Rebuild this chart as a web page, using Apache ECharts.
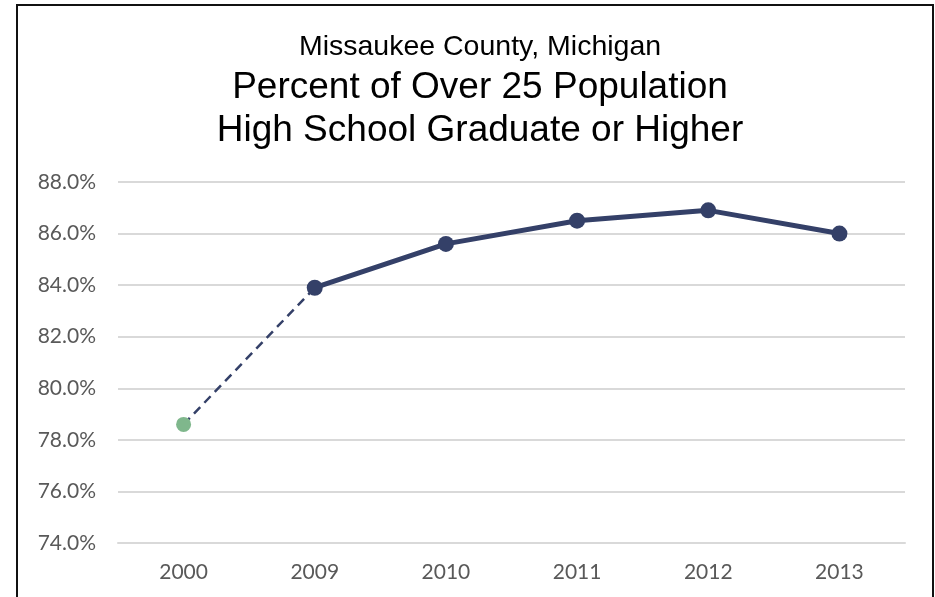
<!DOCTYPE html>
<html><head><meta charset="utf-8">
<script src="https://cdn.jsdelivr.net/npm/echarts@6/dist/echarts.min.js"></script>
<style>html,body{margin:0;padding:0;background:#fff}#c{width:935px;height:597px}</style>
</head><body><div id="c"></div>
<script>
const categories = ['2000', '2009', '2010', '2011', '2012', '2013'];
const values = [78.6, 83.9, 85.6, 86.5, 86.9, 86.0];
const yTicks = [74, 76, 78, 80, 82, 84, 86, 88];
const titleLines = ['Missaukee County, Michigan', 'Percent of Over 25 Population', 'High School Graduate or Higher'];

const dashed = values.map((v, i) => i <= 1 ? (i === 0 ? {value: v, symbol: 'circle', symbolSize: 15, itemStyle: {color: '#7FB78C'}} : v) : '-');
const solid = values.map((v, i) => i >= 1 ? v : '-');

const chart = echarts.init(document.getElementById('c'));
chart.setOption({
  animation: false,
  graphic: [{type: 'rect', shape: {x: 17, y: 5, width: 916, height: 620}, style: {fill: 'none', stroke: '#111', lineWidth: 2}, z: 100}],
  title: [
    {text: titleLines[0], left: 475, top: 28, textAlign: 'center', textStyle: {fontFamily: 'Liberation Sans, Arial, sans-serif', fontSize: 28.5, fontWeight: 'normal', color: '#000'}},
    {text: titleLines[1] + '\n' + titleLines[2], left: 475, top: 61, textAlign: 'center', textStyle: {fontFamily: 'Liberation Sans, Arial, sans-serif', fontSize: 37, lineHeight: 43, fontWeight: 'normal', color: '#000'}}
  ],
  grid: {left: 118, right: 30, top: 182, bottom: 54},
  xAxis: {type: 'category', data: categories, boundaryGap: true,
    axisLine: {show: true, lineStyle: {color: '#d9d9d9', width: 2}}, axisTick: {show: false},
    axisLabel: {color: '#595959', fontSize: 21, fontFamily: 'Lato, sans-serif', margin: 19}},
  yAxis: {type: 'value', min: yTicks[0], max: yTicks[yTicks.length - 1], interval: 2,
    axisLine: {show: false}, axisTick: {show: false},
    splitLine: {lineStyle: {color: '#d9d9d9', width: 2}},
    axisLabel: {color: '#595959', fontSize: 21, fontFamily: 'Lato, sans-serif', margin: 22, formatter: v => v.toFixed(1) + '%'}},
  series: [
    {type: 'line', data: dashed, symbol: 'none', lineStyle: {color: '#344068', width: 2.5, type: [9, 6]}, z: 2},
    {type: 'line', data: solid, symbol: 'circle', symbolSize: 16, itemStyle: {color: '#344068'}, lineStyle: {color: '#344068', width: 5}, z: 3}
  ]
});
</script></body></html>
